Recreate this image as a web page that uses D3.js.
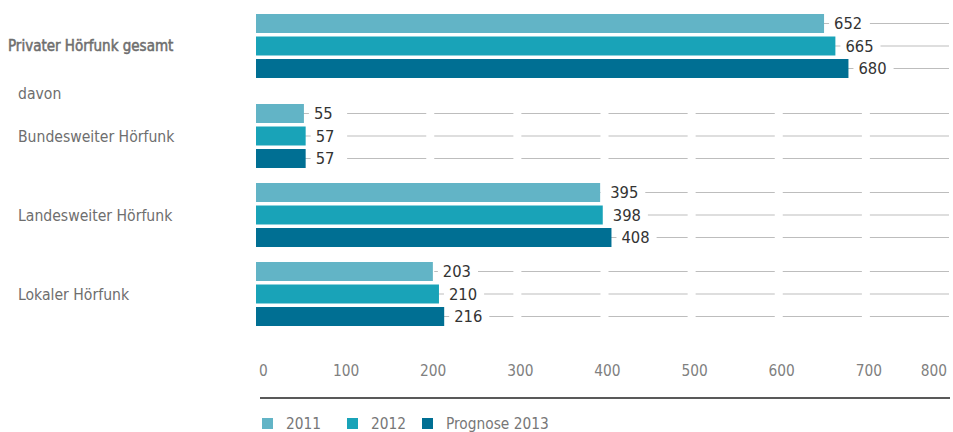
<!DOCTYPE html>
<html><head><meta charset="utf-8">
<script src="https://cdn.jsdelivr.net/npm/d3@7"></script>
<style>
body{margin:0;background:#fff;}
svg{display:block;font-family:"Liberation Sans Narrow","DejaVu Sans Condensed",sans-serif;}
</style></head>
<body><svg id="chart" width="953" height="432"></svg>
<script>
const categories = ["Privater Hörfunk gesamt","Bundesweiter Hörfunk","Landesweiter Hörfunk","Lokaler Hörfunk"];
const seriesNames = ["2011","2012","Prognose 2013"];
const values2011 = [652,55,395,203];
const values2012 = [665,57,398,210];
const values2013 = [680,57,408,216];
const tickValues = [0,100,200,300,400,500,600,700,800];
const subLabel = "davon";
const colors = ["#62b4c6","#19a3b8","#006f93"];

const svg = d3.select("#chart");
const x = d3.scaleLinear().domain([0,800]).range([256,953]);
const groupBand = d3.scaleBand().domain(categories.slice(1)).range([104,341]);
const firstGroupTop = 14;
const inner = d3.scaleBand().domain(seriesNames).range([0,64]).paddingInner(0.156);
const groupTop = (c,i) => i===0 ? firstGroupTop : groupBand(c);

const series = [values2011, values2012, values2013];
const rows = [];
categories.forEach((c,i)=>{
  seriesNames.forEach((s,j)=>{
    rows.push({cat:c, ci:i, s, sj:j, v:series[j][i], y: groupTop(c,i)+inner(s)});
  });
});
const bh = inner.bandwidth();

// horizontal guide lines
svg.append("g").selectAll("line").data(rows).join("line")
  .attr("x1",x(0)).attr("x2",x(800))
  .attr("y1",d=>d.y+bh/2).attr("y2",d=>d.y+bh/2)
  .attr("stroke","#bdbdbd").attr("stroke-width",1.2);
// white gaps at ticks
svg.append("g").selectAll("line").data(tickValues).join("line")
  .attr("x1",d=>x(d)).attr("x2",d=>x(d))
  .attr("y1",5).attr("y2",340)
  .attr("stroke","#fff").attr("stroke-width",8);

// bars
svg.append("g").selectAll("rect").data(rows).join("rect")
  .attr("x",x(0)).attr("y",d=>d.y)
  .attr("width",d=>x(d.v)-x(0)).attr("height",bh)
  .attr("fill",d=>colors[d.sj]);

// value labels
const lg = svg.append("g").selectAll("g").data(rows).join("g");
lg.append("text")
  .attr("x",d=>x(d.v)+10).attr("y",d=>d.y+bh/2)
  .attr("dy","0.36em")
  .attr("font-size",16.4).attr("fill","#333")
  .text(d=>d.v);
lg.each(function(d){
  const t = d3.select(this).select("text");
  const w = t.node().getComputedTextLength();
  d3.select(this).insert("rect","text")
    .attr("x",x(d.v)+5).attr("y",d.y)
    .attr("width",w+12).attr("height",bh).attr("fill","#fff");
});

// category labels
svg.append("g").selectAll("text").data(categories).join("text")
  .attr("x",(d,i)=>i===0?8:18)
  .attr("y",(d,i)=>groupTop(d,i)+inner(seriesNames[1])+bh/2)
  .attr("dy","0.36em")
  .attr("font-size",(d,i)=>i===0?15:15.6)
  .attr("fill","#6e6e6e")
  .attr("stroke",(d,i)=>i===0?"#6e6e6e":"none")
  .attr("stroke-width",0.5)
  .text(d=>d);
svg.append("text").attr("x",18).attr("y",93).attr("dy","0.36em")
  .attr("font-size",15.6).attr("fill","#6e6e6e").text(subLabel);

// axis tick labels
svg.append("g").selectAll("text").data(tickValues).join("text")
  .attr("x",d=> d===0 ? x(d)+3 : (d===800 ? x(d)-6 : x(d)+3))
  .attr("y",370).attr("dy","0.36em")
  .attr("text-anchor",d=> d===0 ? "start" : (d===800 ? "end":"middle"))
  .attr("font-size",15.3).attr("fill","#808080")
  .text(d=>d);

// axis baseline
svg.append("line").attr("x1",260).attr("x2",950).attr("y1",398).attr("y2",398)
  .attr("stroke","#222").attr("stroke-width",1.3);

// legend
const legX = [262,347,422];
const leg = svg.append("g").selectAll("g").data(seriesNames).join("g")
  .attr("transform",(d,i)=>`translate(${legX[i]},418)`);
leg.append("rect").attr("width",11).attr("height",11).attr("fill",(d,i)=>colors[i]);
leg.append("text").attr("x",24).attr("y",5.5).attr("dy","0.36em")
  .attr("font-size",15.3).attr("fill","#777").text(d=>d);
</script></body></html>
